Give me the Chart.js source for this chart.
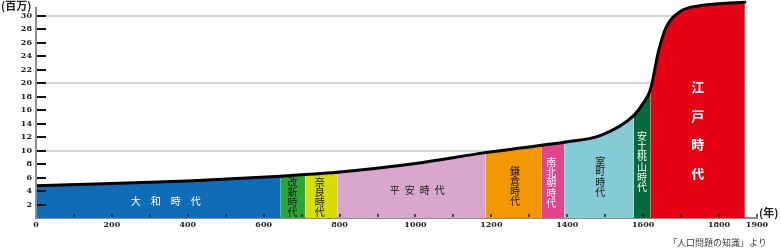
<!DOCTYPE html>
<html>
<head>
<meta charset="utf-8">
<script src="https://cdn.jsdelivr.net/npm/chart.js@4.4.1/dist/chart.umd.min.js"></script>
<style>
    html, body { margin: 0; padding: 0; background: #fff; }
</style>
</head>
<body>
<canvas id="chart" width="781" height="249"></canvas>
<script>
// Population of Japan (millions) by year
const years      = [0,   200, 400, 645, 710,  794, 1000, 1185, 1333, 1392,  1490, 1575, 1600, 1620, 1640, 1660, 1700, 1750, 1800, 1868];
const population = [4.8, 5.1, 5.5, 6.2, 6.45, 6.8, 8.1,  9.7,  10.8, 11.25, 12.3, 15.2, 17.0, 19.2, 24.6, 28.2, 30.7, 31.5, 31.8, 32.0];

// Eras
const eraNames  = ['大和時代', '改新時代', '奈良時代', '平安時代', '鎌倉時代', '南北朝時代', '室町時代', '安土桃山時代', '江戸時代'];
const eraStarts = [0, 645, 710, 794, 1185, 1333, 1392, 1575, 1620];
const eraColors = ['#0f6cb6', '#2aa637', '#d7dd00', '#d9a7cc', '#f39800', '#e4448e', '#84cbd5', '#036a39', '#e60014'];

// Axis ticks
const xTicks = [0, 200, 400, 600, 800, 1000, 1200, 1400, 1600, 1800, 1900];
const xMinorTicks = [100, 200, 300, 400, 500, 600, 700, 800, 900, 1000, 1100, 1200, 1300, 1400, 1500, 1600, 1700, 1800, 1900];
const yTicks = [2, 4, 6, 8, 10, 12, 14, 16, 18, 20, 22, 24, 26, 28, 30];
const yGrid = [10, 20, 30];

// Era label placement (x in years, y in millions)
const eraLabelLayout = [
    { x: 342,  y: 2.5,  dir: 'h', size: 10, pitch: 20, color: '#fff' },
    { x: 676,  y: 3.15, dir: 'v', size: 10, pitch: 10, color: '#1a1a1a' },
    { x: 748,  y: 3.15, dir: 'v', size: 10, pitch: 10, color: '#1a1a1a' },
    { x: 1005, y: 4.05, dir: 'h', size: 10, pitch: 15, color: '#1a1a1a' },
    { x: 1262, y: 4.75, dir: 'v', size: 10, pitch: 10, color: '#1a1a1a' },
    { x: 1358, y: 5.27, dir: 'v', size: 10, pitch: 10.3, color: '#fff' },
    { x: 1487, y: 6.13, dir: 'v', size: 10, pitch: 10.5, color: '#1a1a1a' },
    { x: 1597, y: 8.35, dir: 'v', size: 10, pitch: 10.3, color: '#fff' },
    { x: 1744, y: 13.05, dir: 'v', size: 13, pitch: 28.5, color: '#fff', bold: true }
];

const CJK = '"Noto Sans CJK JP", "Noto Sans", sans-serif';

function eraColorAt(x) {
    let c = eraColors[0];
    eraStarts.forEach((s, i) => { if (x >= s) c = eraColors[i]; });
    return c;
}

const decor = {
    id: 'decor',
    beforeDatasetsDraw(chart) {
        const { ctx, scales: { x, y } } = chart;
        ctx.save();
        ctx.strokeStyle = '#d6d6d6';
        ctx.lineWidth = 2;
        yGrid.forEach(v => {
            const py = Math.round(y.getPixelForValue(v));
            ctx.beginPath();
            ctx.moveTo(x.getPixelForValue(0), py);
            ctx.lineTo(x.getPixelForValue(years[years.length - 1]), py);
            ctx.stroke();
        });
        ctx.restore();
    },
    afterDatasetsDraw(chart) {
        const { ctx, scales: { x, y } } = chart;
        const x0 = x.getPixelForValue(0);
        const y0 = y.getPixelForValue(0);
        ctx.save();

        // y axis line
        ctx.strokeStyle = '#8c8c8c';
        ctx.lineWidth = 2;
        ctx.beginPath();
        ctx.moveTo(x0, y.getPixelForValue(31.3));
        ctx.lineTo(x0, y0 + 1);
        ctx.stroke();

        // y tick marks (inside)
        ctx.strokeStyle = '#111';
        ctx.lineWidth = 2;
        yTicks.forEach(v => {
            const py = Math.round(y.getPixelForValue(v));
            ctx.beginPath();
            ctx.moveTo(x0 + 1, py);
            ctx.lineTo(x0 + 10, py);
            ctx.stroke();
        });

        // x tick marks (inside)
        ctx.strokeStyle = '#222';
        ctx.lineWidth = 1.5;
        xMinorTicks.forEach(v => {
            const px = Math.round(x.getPixelForValue(v));
            ctx.beginPath();
            ctx.moveTo(px, y0 - 1);
            ctx.lineTo(px, y0 - 4);
            ctx.stroke();
        });

        // era labels
        ctx.textAlign = 'center';
        ctx.textBaseline = 'middle';
        eraNames.forEach((name, i) => {
            const L = eraLabelLayout[i];
            const cx = x.getPixelForValue(L.x);
            const cy = y.getPixelForValue(L.y);
            const chars = Array.from(name);
            const n = chars.length;
            ctx.fillStyle = L.color;
            ctx.font = (L.bold ? 'bold ' : '') + L.size + 'px ' + CJK;
            chars.forEach((ch, k) => {
                const off = (k - (n - 1) / 2) * L.pitch;
                if (L.dir === 'h') ctx.fillText(ch, cx + off, cy);
                else ctx.fillText(ch, cx, cy + off);
            });
        });
        ctx.restore();
    },
    afterDraw(chart) {
        const { ctx, scales: { x, y } } = chart;
        ctx.save();
        ctx.fillStyle = '#222';
        ctx.textBaseline = 'middle';
        ctx.textAlign = 'left';
        ctx.font = 'bold 11px ' + CJK;
        ctx.fillText('(百万)', 1, 6);
        ctx.fillText('(年)', x.getPixelForValue(1900) + 2, y.getPixelForValue(0) - 5);
        ctx.font = '9px ' + CJK;
        ctx.fillStyle = '#444';
        ctx.textAlign = 'right';
        ctx.fillText('「人口問題の知識」より', 767, 242.5);
        ctx.restore();
    }
};

const tickFont = { family: '"DejaVu Serif", serif', weight: 'bold', size: 8 };

new Chart(document.getElementById('chart'), {
    type: 'line',
    data: {
        datasets: [{
            data: years.map((yr, i) => ({ x: yr, y: population[i] })),
            borderColor: '#000',
            borderWidth: 3,
            borderCapStyle: 'round',
            borderJoinStyle: 'round',
            backgroundColor: eraColors[0],
            fill: 'origin',
            pointRadius: 0,
            cubicInterpolationMode: 'monotone',
            segment: {
                backgroundColor: c => eraColorAt(c.p0.parsed.x)
            }
        }]
    },
    options: {
        responsive: false,
        animation: false,
        layout: { padding: { left: 0, right: 24, top: 0, bottom: 0 } },
        plugins: {
            legend: { display: false },
            tooltip: { enabled: false }
        },
        scales: {
            x: {
                type: 'linear',
                min: 0,
                max: 1900,
                afterBuildTicks: s => { s.ticks = xTicks.map(v => ({ value: v })); },
                afterFit: s => { s.height = 31; s.paddingLeft = 0; s.paddingRight = 0; },
                grid: { display: false, drawTicks: false },
                border: { display: true, color: '#8c8c8c', width: 2 },
                ticks: { autoSkip: false, maxRotation: 0, padding: 2, color: '#222', font: tickFont, callback: v => String(v) }
            },
            y: {
                min: 0,
                max: 32.34,
                afterBuildTicks: s => { s.ticks = yTicks.map(v => ({ value: v })); },
                afterFit: s => { s.width = 36; s.paddingTop = 0; s.paddingBottom = 0; },
                grid: { display: false, drawTicks: false },
                border: { display: false },
                ticks: { autoSkip: false, padding: 4, color: '#222', font: tickFont, callback: v => String(v) }
            }
        }
    },
    plugins: [decor]
});
</script>
</body>
</html>
